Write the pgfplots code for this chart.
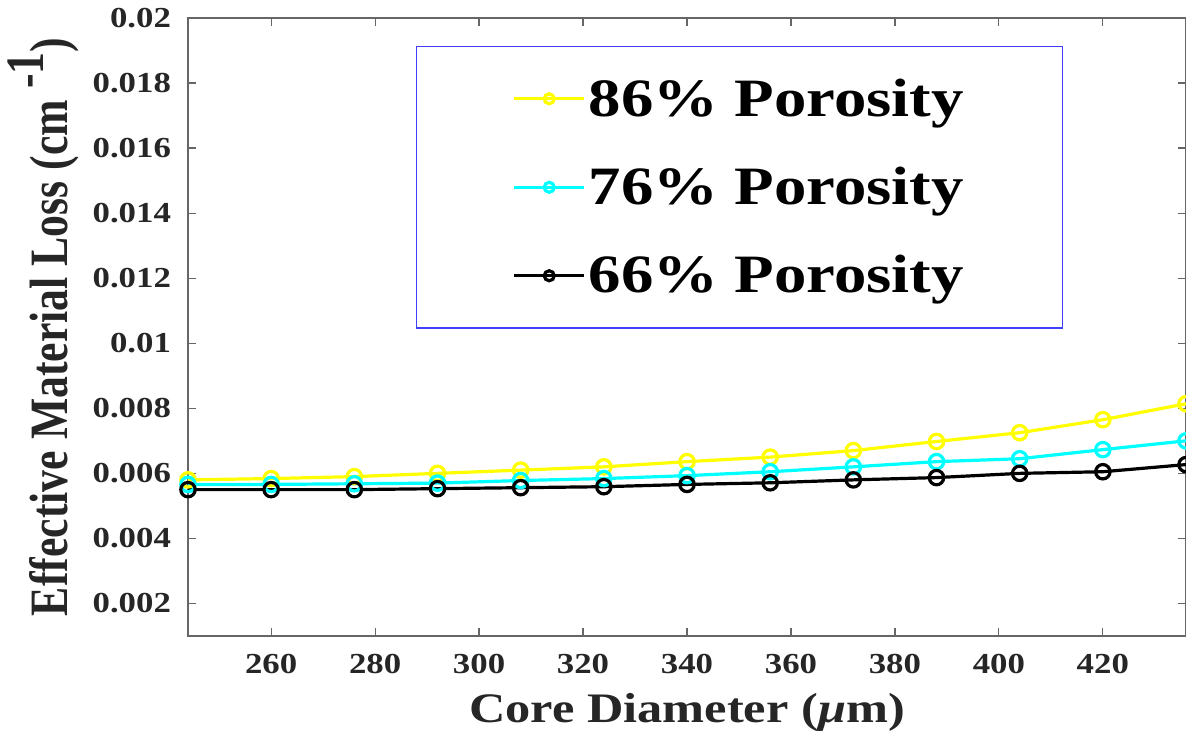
\documentclass[border=0pt]{standalone}
\usepackage{pgfplots}
\pgfplotsset{compat=1.18}
\usepackage{graphicx}
\usepackage{fontspec}
\setmainfont{Liberation Serif}[FakeStretch=1.2]
\newfontfamily\ylfont{Liberation Serif}
\definecolor{axgray}{RGB}{38,38,38}
\definecolor{legblue}{RGB}{64,64,255}
\definecolor{pcyan}{RGB}{0,255,255}
\definecolor{pyellow}{RGB}{255,255,0}
\begin{document}
\begin{tikzpicture}
\begin{axis}[
  name=ax,
  width=499pt, height=309pt, scale only axis,
  xmin=244, xmax=436, ymin=0.001, ymax=0.02,
  xtick={260,280,300,320,340,360,380,400,420},
  ytick={0.002,0.004,0.006,0.008,0.01,0.012,0.014,0.016,0.018,0.02},
  scaled y ticks=false,
  yticklabel style={/pgf/number format/fixed,/pgf/number format/precision=3, xshift=-5pt},
  xticklabel style={yshift=-5.5pt},
  /pgf/number format/assume math mode=true,
  ticklabel style={font=\fontsize{14.5}{17}\selectfont\bfseries, text=axgray},
  axis line style={draw=black!60, line width=0.6pt},
  tick style={draw=black!60, line width=0.6pt},
  major tick length=4pt,
  tick align=inside,
  clip=false,
  xlabel={Core Diameter ({\itshape μ}m)},
  xlabel style={font=\fontsize{21}{24}\selectfont\bfseries, text=axgray, at={(axis description cs:0.5,-0.123)}, anchor=center},
  ylabel={\scalebox{0.81}[1]{\ylfont\bfseries Effective Material Loss (cm \raisebox{0.45em}{-1})}},
  ylabel style={font=\fontsize{27}{30}\selectfont, text=axgray, at={(axis description cs:-0.145,0.5)}, anchor=center},
  legend style={at={(axis description cs:0.2285,0.9547)}, anchor=north west,
    draw=legblue, line width=0.6pt, inner xsep=48pt, inner ysep=14.5pt,
    font=\fontsize{27}{31}\selectfont\bfseries, row sep=21pt,
    nodes={inner sep=1.5pt}},
  legend cell align=left,
  legend image code/.code={\draw[mark repeat=2,mark phase=2,#1,mark size=2.5pt] plot coordinates {(0pt,0pt) (17.5pt,0pt) (35pt,0pt)};},
]
\addplot[color=pyellow, line width=1.6pt, mark=o, mark size=3.6pt] coordinates {
(244,0.00580) (260,0.00584) (276,0.00590) (292,0.00600) (308,0.00610) (324,0.00620)
(340,0.00636) (356,0.00650) (372,0.00670) (388,0.00698) (404,0.00725) (420,0.00765) (436,0.00814)};
\addlegendentry{86\% Porosity}
\addplot[color=pcyan, line width=1.6pt, mark=o, mark size=3.6pt] coordinates {
(244,0.00566) (260,0.00566) (276,0.00568) (292,0.00570) (308,0.00578) (324,0.00584)
(340,0.00593) (356,0.00605) (372,0.00620) (388,0.00636) (404,0.00645) (420,0.00673) (436,0.00700)};
\addlegendentry{76\% Porosity}
\addplot[color=black, line width=1.6pt, mark=o, mark size=3.6pt] coordinates {
(244,0.00550) (260,0.00550) (276,0.00550) (292,0.00553) (308,0.00556) (324,0.00559)
(340,0.00566) (356,0.00571) (372,0.00580) (388,0.00587) (404,0.00600) (420,0.00605) (436,0.00627)};
\addlegendentry{66\% Porosity}
\end{axis}
\pgfresetboundingbox
\path[use as bounding box] ([xshift=-94pt,yshift=-48pt]ax.south west) rectangle ([yshift=9pt]ax.north east);
\end{tikzpicture}
\end{document}
